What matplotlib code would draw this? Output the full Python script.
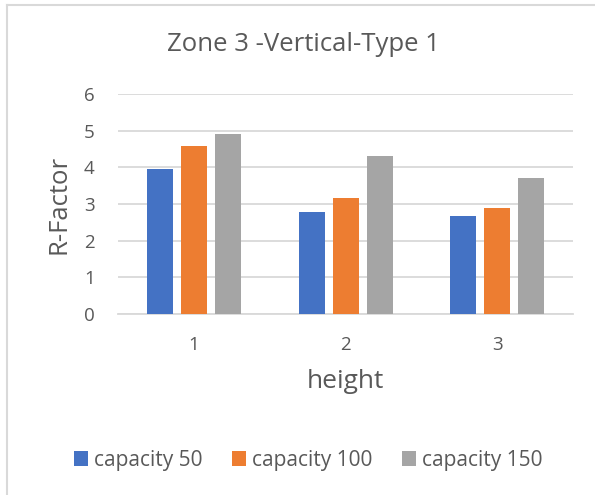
import numpy as np
import matplotlib.pyplot as plt
from matplotlib.lines import Line2D

plt.rcParams['font.family'] = ['Open Sans', 'DejaVu Sans']

heights = [1, 2, 3]
series = ['capacity 50', 'capacity 100', 'capacity 150']
cap50 = [3.95, 2.79, 2.68]
cap100 = [4.58, 3.15, 2.90]
cap150 = [4.92, 4.32, 3.72]
colors = ['#4472C4', '#ED7D31', '#A5A5A5']
grey_text = '#595959'

fig = plt.figure(figsize=(5.95, 4.95), dpi=100)
ax = fig.add_axes([0.199, 0.366, 0.764, 0.444])

x = np.arange(len(heights)) + 1
width = 0.172
pitch = 0.225
for i, (vals, name, c) in enumerate(zip([cap50, cap100, cap150], series, colors)):
    ax.bar(x + (i - 1) * pitch, vals, width, color=c, label=name, zorder=3)

ax.set_xlim(0.5, 3.5)
ax.set_ylim(0, 6)
ax.set_yticks(range(7))
ax.set_xticks(x)
ax.set_xticklabels([str(h) for h in heights])
ax.grid(axis='y', color='#D9D9D9', lw=1.3, zorder=0)
for s in ['top', 'right', 'left']:
    ax.spines[s].set_visible(False)
ax.spines['bottom'].set_color('#D9D9D9')
ax.spines['bottom'].set_linewidth(1.3)
ax.tick_params(length=0, labelsize=13.5, colors=grey_text)
ax.tick_params(axis='x', pad=16)
ax.tick_params(axis='y', pad=17)

ax.set_ylabel('R-Factor', fontsize=18.5, color=grey_text, labelpad=9)
ax.set_xlabel('height', fontsize=19, color=grey_text, labelpad=11)
fig.text(0.51, 0.91, 'Zone 3 -Vertical-Type 1', ha='center', va='center',
         fontsize=18.5, color=grey_text)

fig.legend(loc='center', bbox_to_anchor=(0.518, 0.07), ncol=3, frameon=False,
           fontsize=15, labelcolor=grey_text, handlelength=0.67,
           handleheight=0.67, handletextpad=0.3, columnspacing=1.4)

# chart frame edge along the top and left
fig.add_artist(Line2D([0.011, 1.0], [0.99, 0.99], color='#D9D9D9', lw=1.5))
fig.add_artist(Line2D([0.011, 0.011], [0.0, 0.99], color='#D9D9D9', lw=1.5))

fig.savefig('out.png', dpi=100)
